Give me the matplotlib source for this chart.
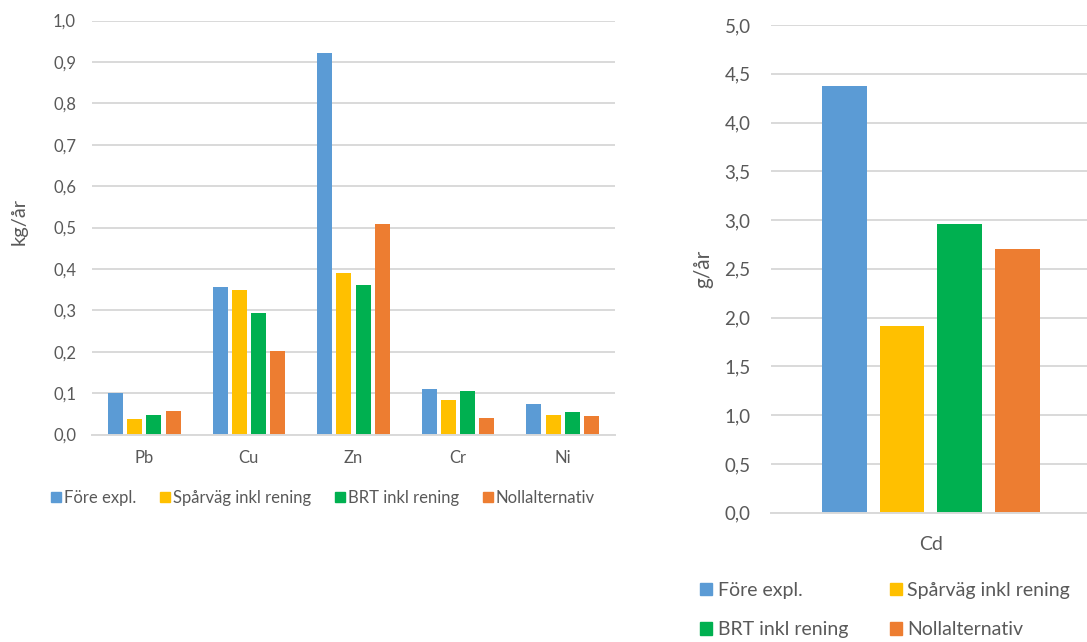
import matplotlib
matplotlib.use("Agg")
import matplotlib.pyplot as plt
from matplotlib.patches import Patch
import numpy as np

plt.rcParams['font.family'] = ['Lato', 'DejaVu Sans']

# Metals measured in kg/år
metals = ["Pb", "Cu", "Zn", "Cr", "Ni"]
series_names = ["Före expl.", "Spårväg inkl rening", "BRT inkl rening", "Nollalternativ"]
fore_expl = [0.100, 0.356, 0.922, 0.109, 0.074]
sparvag = [0.037, 0.348, 0.389, 0.084, 0.046]
brt = [0.046, 0.293, 0.360, 0.105, 0.055]
nollalt = [0.057, 0.201, 0.509, 0.039, 0.044]

# Cadmium measured in g/år
cd_label = ["Cd"]
cd_values = [4.37, 1.91, 2.96, 2.70]

left_ticks = [0.0, 0.1, 0.2, 0.3, 0.4, 0.5, 0.6, 0.7, 0.8, 0.9, 1.0]
right_ticks = [0.0, 0.5, 1.0, 1.5, 2.0, 2.5, 3.0, 3.5, 4.0, 4.5, 5.0]

colors = ["#5B9BD5", "#FFC000", "#00B050", "#ED7D31"]
text_col = "#595959"
grid_col = "#D9D9D9"

W, H = 1087, 642
fig = plt.figure(figsize=(W / 100, H / 100), dpi=100)


def style_axes(ax, ticks, fs, pad):
    ax.set_yticks(ticks)
    ax.set_yticklabels([f"{t:.1f}".replace(".", ",") for t in ticks])
    ax.grid(axis="y", color=grid_col, linewidth=1.4)
    ax.set_axisbelow(True)
    for s in ["left", "right", "top"]:
        ax.spines[s].set_visible(False)
    ax.spines["bottom"].set_color(grid_col)
    ax.spines["bottom"].set_linewidth(1.4)
    ax.tick_params(axis="both", length=0, labelsize=fs, colors=text_col, pad=pad)


# Left chart
axL = fig.add_axes([92 / W, 1 - 434.5 / H, (615 - 92) / W, (434.5 - 20.5) / H])
all_series = [fore_expl, sparvag, brt, nollalt]
x = np.arange(len(metals))
bw = 0.143
step = 0.184
for i, (vals, c) in enumerate(zip(all_series, colors)):
    axL.bar(x + (i - 1.5) * step, vals, width=bw, color=c)
axL.set_xlim(-0.5, len(metals) - 0.5)
axL.set_ylim(0, 1.0)
axL.set_xticks(x)
axL.set_xticklabels(metals)
style_axes(axL, left_ticks, 12, 11.5)
axL.tick_params(axis="x", pad=11)
axL.set_ylabel("kg/år", fontsize=14.5, color=text_col)
axL.yaxis.set_label_coords((28 - 92) / 523, (434.5 - 221.5) / 414)

handles = [Patch(color=c) for c in colors]
fig.legend(handles, series_names, loc="center left", bbox_to_anchor=(51 / W, 1 - 498 / H),
           ncol=4, frameon=False, fontsize=12, labelcolor=text_col,
           handlelength=0.6, handleheight=0.5, handletextpad=0.2, columnspacing=1.4,
           borderaxespad=0, borderpad=0)

# Right chart
axR = fig.add_axes([770.7 / W, 1 - 512.7 / H, (1091 - 770.7) / W, (512.7 - 25) / H])
bwr = 0.14
stepr = 0.18
for i, (v, c) in enumerate(zip(cd_values, colors)):
    axR.bar((i - 1.5) * stepr, v, width=bwr, color=c)
axR.set_xlim(-0.5, 0.5)
axR.set_ylim(0, 5.0)
axR.set_xticks([0])
axR.set_xticklabels(cd_label)
style_axes(axR, right_ticks, 13.5, 14.5)
axR.tick_params(axis="x", labelsize=14, pad=17)
axR.set_ylabel("g/år", fontsize=15, color=text_col)
axR.yaxis.set_label_coords((713 - 770.7) / 320.3, (512.7 - 269) / 487.7)

# two rows, filled column by column: Före / BRT, then Spårväg / Noll
order = [0, 2, 1, 3]
fig.legend([handles[i] for i in order], [series_names[i] for i in order],
           loc="upper left", bbox_to_anchor=(700 / W, 1 - 582 / H),
           ncol=2, frameon=False, fontsize=14, labelcolor=text_col,
           handlelength=0.62, handleheight=0.58, handletextpad=0.28, columnspacing=2.15,
           labelspacing=1.15, borderaxespad=0, borderpad=0)

fig.savefig("out.png", dpi=100, facecolor="white")
